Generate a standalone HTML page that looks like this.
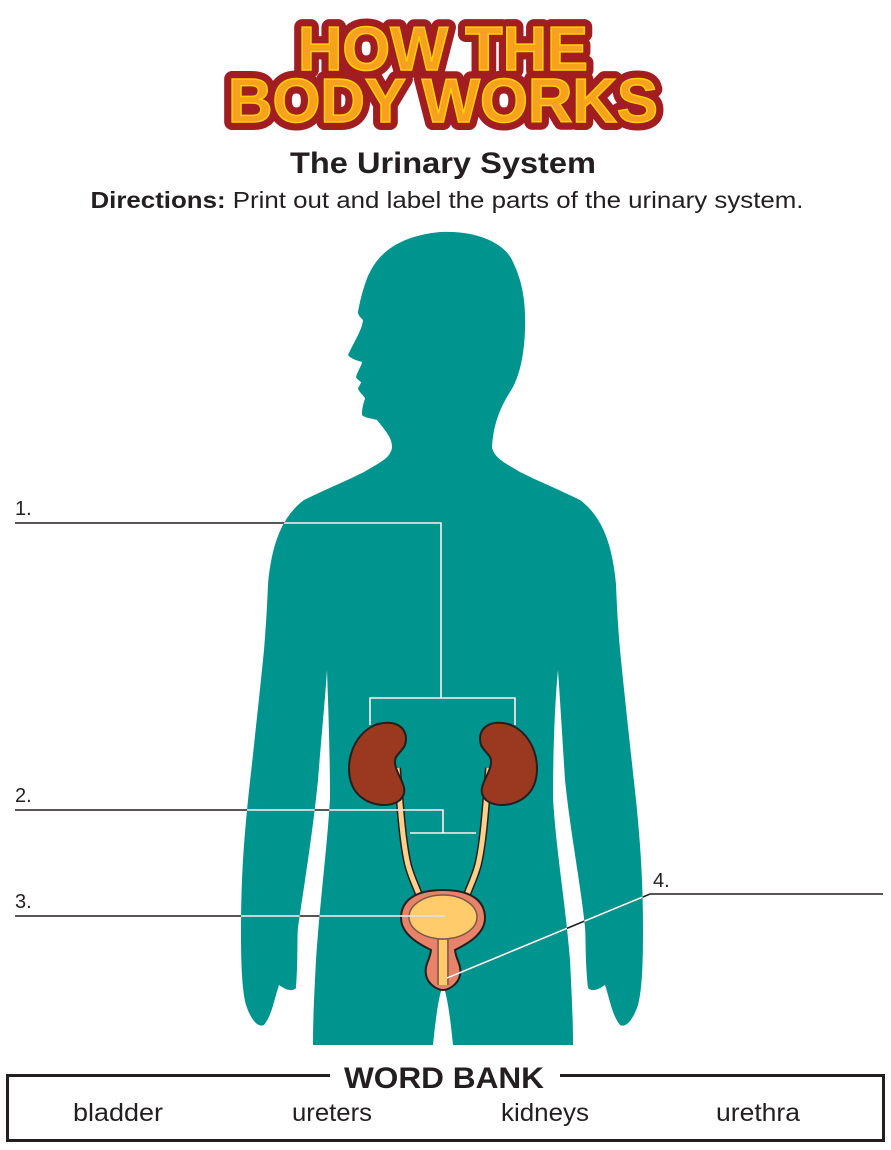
<!DOCTYPE html>
<html><head><meta charset="utf-8"><style>
html,body{margin:0;padding:0;background:#fff}
svg{display:block}
</style></head><body>
<svg width="891" height="1150" viewBox="0 0 891 1150" xmlns="http://www.w3.org/2000/svg">
<defs>
<clipPath id="body"><path id="bp" d="M440,232 C480,230 505,245 512,260 C522,280 526,300 525,330 C524,360 518,380 510,392 C500,408 493,425 492,448 C495,458 503,462 520,472 C540,482 560,490 580,500 C600,515 612,540 616,584 C617,610 618,625 620,650 C625,700 630,745 636,800 C640,840 643,878 643,930 C643,965 642,990 638,1005 C633,1020 626,1028 620,1025 C612,1015 610,1000 605,985 C598,990 592,992 588,988 C585,960 586,940 585,927 C580,880 570,830 565,780 C562,730 560,700 558,670 C555,700 553,750 553,798 C556,850 565,900 570,960 C572,1000 573,1020 573,1045 L453,1045 C450,1015 447,995 443,985 C439,995 436,1015 433,1045 L313,1045 C313,1020 314,1000 316,960 C320,900 327,850 330,798 C330,750 328,700 327,670 C325,700 322,730 318,780 C313,830 305,880 298,927 C297,940 298,960 296,988 C292,992 286,990 279,985 C274,1000 272,1015 264,1025 C258,1028 251,1020 246,1005 C242,990 241,965 241,930 C241,878 244,840 248,800 C254,745 259,700 264,650 C266,625 267,610 268,584 C272,540 284,515 304,500 C324,490 344,482 364,472 C381,462 390,458 392,448 C392,440 390,436 377,420 C370,418 365,418 362,415 C362,405 365,400 365,398 C360,392 358,390 358,388 C360,385 361,383 361,382 C358,380 356,378 356,377 C358,370 362,365 362,362 C355,360 350,358 348,355 C355,340 362,330 363,320 C360,317 358,315 358,312 C362,290 368,275 370,272 C380,252 400,236 440,232 Z"/></clipPath>
</defs>

<!-- Logo -->
<g font-family="Liberation Sans, sans-serif" font-weight="bold" text-anchor="middle">
<text x="443" y="70" font-size="62" fill="#f7a11f" stroke="#a11d21" stroke-width="16" stroke-linejoin="round" paint-order="stroke" textLength="290" lengthAdjust="spacingAndGlyphs">HOW THE</text>
<text x="443" y="122" font-size="62" fill="#f7a11f" stroke="#a11d21" stroke-width="16" stroke-linejoin="round" paint-order="stroke" textLength="430" lengthAdjust="spacingAndGlyphs">BODY WORKS</text>
<text x="443" y="70" font-size="62" fill="none" stroke="#ffd200" stroke-width="1.5" textLength="290" lengthAdjust="spacingAndGlyphs">HOW THE</text>
<text x="443" y="122" font-size="62" fill="none" stroke="#ffd200" stroke-width="1.5" textLength="430" lengthAdjust="spacingAndGlyphs">BODY WORKS</text>
</g>

<text x="443" y="173" text-anchor="middle" font-family="Liberation Sans, sans-serif" font-weight="bold" font-size="30" fill="#231f20" textLength="306" lengthAdjust="spacingAndGlyphs">The Urinary System</text>
<text x="447" y="208" text-anchor="middle" font-family="Liberation Sans, sans-serif" font-size="23" fill="#231f20" textLength="713" lengthAdjust="spacingAndGlyphs"><tspan font-weight="bold">Directions:</tspan> Print out and label the parts of the urinary system.</text>

<!-- Body -->
<use href="#bp" fill="#00948f"/>

<!-- Kidneys & ureters -->
<g stroke="#231f20" stroke-width="2">
<path d="M397,768 C400,800 402,840 408,865 C412,880 418,890 420,898" fill="none" stroke-width="8"/>
<path d="M397,768 C400,800 402,840 408,865 C412,880 418,890 420,898" fill="none" stroke="#ffd08a" stroke-width="5"/>
<path d="M489,768 C486,800 484,840 478,865 C474,880 468,890 466,898" fill="none" stroke-width="8"/>
<path d="M489,768 C486,800 484,840 478,865 C474,880 468,890 466,898" fill="none" stroke="#ffd08a" stroke-width="5"/>
<path d="M375,725 C395,718 410,728 405,745 C400,755 392,755 396,768 C400,780 410,790 400,800 C388,810 360,805 352,785 C344,765 352,735 375,725 Z" fill="#9b3820"/>
<path d="M511,725 C491,718 476,728 481,745 C486,755 494,755 490,768 C486,780 476,790 486,800 C498,810 526,805 534,785 C542,765 534,735 511,725 Z" fill="#9b3820"/>
</g>
<!-- Bladder -->
<g stroke="#231f20" stroke-width="2">
<path d="M443,890 C470,890 485,900 485,918 C485,935 465,945 455,950 C456,960 462,965 460,975 C458,985 448,990 443,990 C438,990 428,985 426,975 C424,965 430,960 431,950 C421,945 401,935 401,918 C401,900 416,890 443,890 Z" fill="#e8836a"/>
<ellipse cx="443" cy="917" rx="34" ry="22" fill="#ffcb6b" stroke="#7a5a4a" stroke-width="1.5"/>
<path d="M438,938 L438,985 M448,938 L448,985" stroke="#7a5a4a" stroke-width="1.5"/>
<rect x="439" y="940" width="8" height="45" fill="#ffcb6b" stroke="none"/>
</g>

<!-- Leader lines: black everywhere -->
<g stroke="#231f20" stroke-width="1.6" fill="none">
<path d="M15,523 H441 V698 M370,725 V698 H515 V725"/>
<path d="M15,810 H443 V833 M410,833 H476"/>
<path d="M15,916 H445"/>
<path d="M883,894 H650 L447,978"/>
</g>
<g stroke="#fff" stroke-width="1.6" fill="none" clip-path="url(#body)">
<path d="M15,523 H441 V698 M370,725 V698 H515 V725"/>
<path d="M15,810 H443 V833 M410,833 H476"/>
<path d="M15,916 H445"/>
<path d="M883,894 H650 L447,978"/>
</g>

<g font-family="Liberation Sans, sans-serif" font-size="20" fill="#231f20">
<text x="15" y="515">1.</text>
<text x="15" y="802">2.</text>
<text x="15" y="908">3.</text>
<text x="653" y="887">4.</text>
</g>

<!-- Word bank -->
<rect x="7.5" y="1075.5" width="876" height="65" fill="#fff" stroke="#231f20" stroke-width="3"/>
<rect x="330" y="1062" width="230" height="26" fill="#fff"/>
<text x="444" y="1088" text-anchor="middle" font-family="Liberation Sans, sans-serif" font-weight="bold" font-size="30" fill="#231f20" textLength="200" lengthAdjust="spacingAndGlyphs">WORD BANK</text>
<g font-family="Liberation Sans, sans-serif" font-size="25" fill="#231f20" text-anchor="middle" lengthAdjust="spacingAndGlyphs">
<text x="118" y="1121" textLength="90" lengthAdjust="spacingAndGlyphs">bladder</text>
<text x="332" y="1121" textLength="80" lengthAdjust="spacingAndGlyphs">ureters</text>
<text x="545" y="1121" textLength="88" lengthAdjust="spacingAndGlyphs">kidneys</text>
<text x="758" y="1121" textLength="84" lengthAdjust="spacingAndGlyphs">urethra</text>
</g>
</svg>
</body></html>
